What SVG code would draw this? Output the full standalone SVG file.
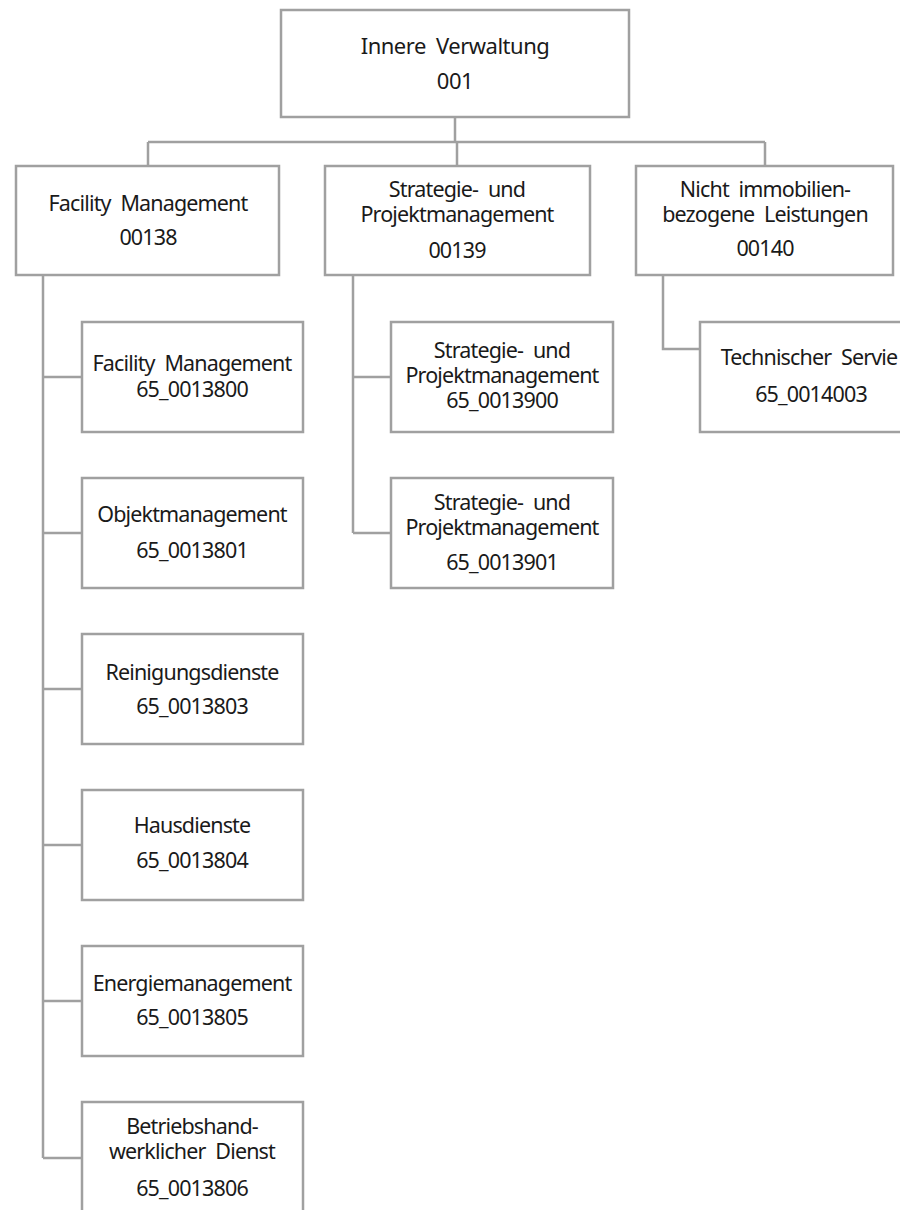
<svg xmlns="http://www.w3.org/2000/svg" width="900" height="1210" viewBox="0 0 900 1210">
<style>
.box{fill:#ffffff;stroke:#a0a0a0;stroke-width:2.5}
.ln{fill:none;stroke:#a0a0a0;stroke-width:2.5}
text{font-family:"Noto Sans","Noto Sans CJK KR",sans-serif;font-size:21.5px;fill:#1a1a1a;text-anchor:middle;word-spacing:5px;letter-spacing:-0.85px}
.top{font-size:22px;letter-spacing:-0.5px}
</style>
<rect width="900" height="1210" fill="#ffffff"/>
<g id="connectors">
<path class="ln" d="M455 117V142M148 142H765M148 142V166M457 142V166M765 142V166"/>
<path class="ln" d="M43 275V1158M43 377H82M43 533H82M43 689H82M43 845H82M43 1001H82M43 1158H82"/>
<path class="ln" d="M353 275V533M353 377H391M353 533H391"/>
<path class="ln" d="M663 275V349H700"/>
</g>
<g id="n001"><rect class="box" x="281" y="10" width="348" height="107"/><text class="top" x="455" y="54">Innere Verwaltung</text><text class="top" x="455" y="89">001</text></g>
<g id="n00138"><rect class="box" x="16" y="166" width="263" height="109"/><text x="148" y="211">Facility Management</text><text x="148" y="245">00138</text></g>
<g id="n00139"><rect class="box" x="325" y="166" width="265" height="109"/><text x="457" y="197">Strategie- und</text><text x="457" y="222">Projektmanagement</text><text x="457" y="258">00139</text></g>
<g id="n00140"><rect class="box" x="636" y="166" width="257" height="109"/><text x="765" y="197">Nicht immobilien-</text><text x="765" y="222">bezogene Leistungen</text><text x="765" y="256">00140</text></g>
<g id="n0013800"><rect class="box" x="82" y="322" width="221" height="110"/><text x="192" y="371">Facility Management</text><text x="192" y="397">65_0013800</text></g>
<g id="n0013801"><rect class="box" x="82" y="478" width="221" height="110"/><text x="192" y="522">Objektmanagement</text><text x="192" y="558">65_0013801</text></g>
<g id="n0013803"><rect class="box" x="82" y="634" width="221" height="110"/><text x="192" y="680">Reinigungsdienste</text><text x="192" y="714">65_0013803</text></g>
<g id="n0013804"><rect class="box" x="82" y="790" width="221" height="110"/><text x="192" y="833">Hausdienste</text><text x="192" y="868">65_0013804</text></g>
<g id="n0013805"><rect class="box" x="82" y="946" width="221" height="110"/><text x="192" y="991">Energiemanagement</text><text x="192" y="1025">65_0013805</text></g>
<g id="n0013806"><rect class="box" x="82" y="1102" width="221" height="110"/><text x="192" y="1134">Betriebshand-</text><text x="192" y="1159">werklicher Dienst</text><text x="192" y="1196">65_0013806</text></g>
<g id="n0013900"><rect class="box" x="391" y="322" width="222" height="110"/><text x="502" y="358">Strategie- und</text><text x="502" y="383">Projektmanagement</text><text x="502" y="408">65_0013900</text></g>
<g id="n0013901"><rect class="box" x="391" y="478" width="222" height="110"/><text x="502" y="510">Strategie- und</text><text x="502" y="535">Projektmanagement</text><text x="502" y="570">65_0013901</text></g>
<g id="n0014003"><rect class="box" x="700" y="322" width="222" height="110"/><text x="809" y="365">Technischer Servie</text><text x="811" y="402">65_0014003</text></g>
</svg>
